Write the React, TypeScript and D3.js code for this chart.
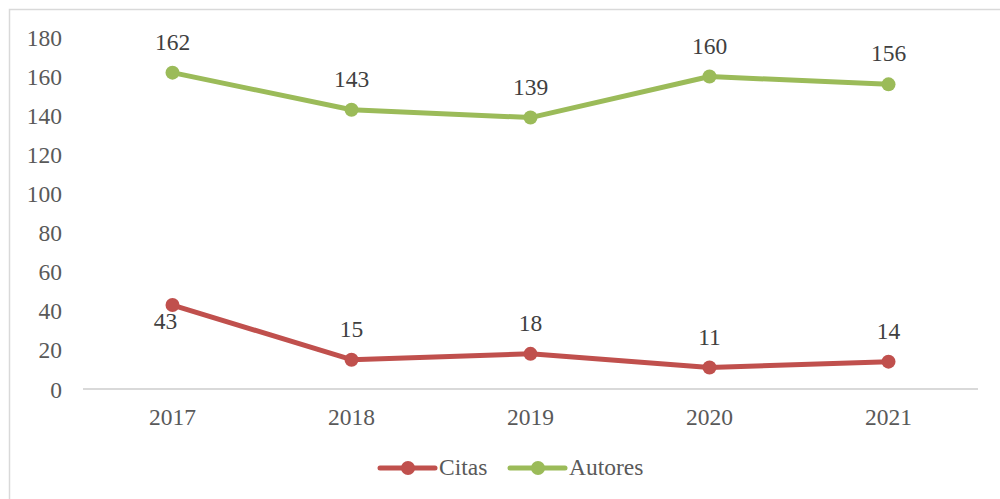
import React from "react";
import * as d3 from "d3";

const years = ["2017", "2018", "2019", "2020", "2021"];
const citas = [43, 15, 18, 11, 14];
const autores = [162, 143, 139, 160, 156];
const yTicks = [0, 20, 40, 60, 80, 100, 120, 140, 160, 180];

const W = 1000;
const H = 499;
const RED = "#C0504D";
const GREEN = "#9BBB59";
const FONT = "'Liberation Serif', 'Times New Roman', serif";

export default function App() {
  const x = d3.scaleBand<string>().domain(years).range([83, 978]);
  const y = d3.scaleLinear().domain([0, 180]).range([389, 37.5]);
  const cx = (d: string) => (x(d) ?? 0) + x.bandwidth() / 2;
  const line = d3
    .line<number>()
    .x((_, i) => cx(years[i]))
    .y((v) => y(v));

  const series = [
    { name: "Citas", values: citas, color: RED },
    { name: "Autores", values: autores, color: GREEN },
  ];

  const ts = { fontFamily: FONT, fontSize: "23.5px" } as React.CSSProperties;

  return (
    <svg
      width={W}
      height={H}
      style={{ position: "absolute", left: 0, top: 0, fontFamily: FONT }}
    >
      <rect x={0} y={0} width={W} height={H} fill="#fff" />
      <rect x={9.5} y={9.5} width={1000} height={500} fill="none" stroke="#d9d9d9" strokeWidth={1.5} />
      {yTicks.map((t) => (
        <text key={t} x={62} y={y(t) + 8.5} textAnchor="end" style={ts} fill="#595959">
          {t}
        </text>
      ))}
      <line x1={83} x2={978} y1={389} y2={389} stroke="#d9d9d9" strokeWidth={2} />
      {years.map((yr) => (
        <text key={yr} x={cx(yr)} y={425} textAnchor="middle" style={ts} fill="#595959">
          {yr}
        </text>
      ))}
      {series.map((s) => (
        <g key={s.name}>
          <path d={line(s.values) ?? ""} fill="none" stroke={s.color} strokeWidth={5} strokeLinejoin="round" strokeLinecap="round" />
          {s.values.map((v, i) => (
            <circle key={i} cx={cx(years[i])} cy={y(v)} r={7} fill={s.color} />
          ))}
          {s.values.map((v, i) => {
            const below = s.name === "Citas" && i === 0;
            return (
              <text
                key={"l" + i}
                x={cx(years[i]) - (below ? 7 : 0)}
                y={below ? y(v) + 24 : y(v) - 23}
                textAnchor="middle"
                style={ts}
                fill="#404040"
              >
                {v}
              </text>
            );
          })}
        </g>
      ))}
      {series.map((s, i) => {
        const lx = 380 + i * 130;
        return (
          <g key={"lg" + s.name}>
            <line x1={lx} x2={lx + 55} y1={468} y2={468} stroke={s.color} strokeWidth={5} strokeLinecap="round" />
            <circle cx={lx + 28} cy={468} r={7} fill={s.color} />
            <text x={lx + 59} y={475} style={ts} fill="#595959">
              {s.name}
            </text>
          </g>
        );
      })}
    </svg>
  );
}
